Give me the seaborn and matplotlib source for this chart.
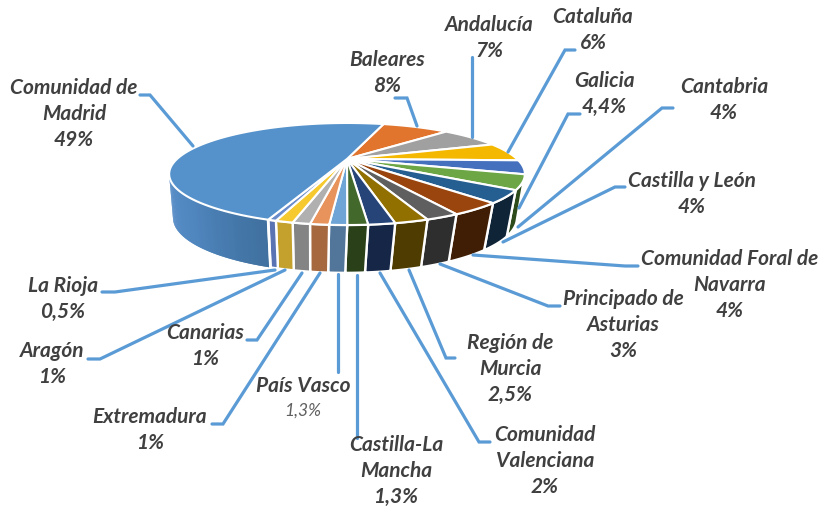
import numpy as np
import matplotlib
matplotlib.use('Agg')
import matplotlib.pyplot as plt
import seaborn as sns
from matplotlib.path import Path
from matplotlib.transforms import Transform

names = ['Baleares', 'Andalucía', 'Cataluña', 'Galicia', 'Cantabria', 'Castilla y León',
         'Comunidad Foral de\nNavarra', 'Principado de\nAsturias', 'Región de\nMurcia',
         'Comunidad\nValenciana', 'Castilla-La\nMancha', 'País Vasco', 'Extremadura',
         'Aragón', 'Canarias', 'La Rioja', 'Comunidad de\nMadrid']
# printed percentages
pct_labels = ['8%', '7%', '6%', '4,4%', '4%', '4%', '4%', '3%', '2,5%', '2%', '1,3%', '1,3%',
              '1%', '1%', '1%', '0,5%', '49%']
# slice sizes as they look in the picture, the small ones differ a bit from the printed labels
shares = [8, 7, 6, 4.4, 4.6, 3.83, 3.8, 2.36, 2.33, 1.83, 1.39, 1.2, 1.28, 1.2, 1.2, 0.58, 49]

top_colors = ['#E2752E', '#A0A0A0', '#F5B800', '#4470BE', '#6CA645', '#255E91', '#9A450D',
              '#5F5F5F', '#927000', '#264478', '#43682B', '#6FA5D6', '#E9935C', '#B0B0B0',
              '#F6C92E', '#6A8CCB', '#5592CB']
side_colors = ['#8A4515', '#666666', '#967000', '#2A4578', '#2C4A1A', '#0F2437', '#3F1E05',
               '#2E2E2E', '#4F3C00', '#152646', '#2A4018', '#52769A', '#A6683F', '#848484',
               '#C4A12C', '#5A74B3', '#4A80B8']

# label centre x, first line y
label_pos = [(387, 60), (489, 25), (593, 17), (604, 81), (724, 87), (692, 181), (730, 259),
             (623, 299), (510, 343), (545, 435), (396, 445), (303, 386), (150, 417),
             (52, 351), (205, 333), (63, 286), (74, 88)]
leaders = [[(395, 98), (407, 98), (417, 126)],
           [(472, 57), (472, 137)],
           [(575, 50), (565, 50), (508, 152)],
           [(580, 114), (568, 114), (519, 208)],
           [(673, 108), (662, 108), (518, 227)],
           [(625, 187), (615, 187), (503, 242)],
           [(638, 266), (625, 266), (473, 255)],
           [(560, 306), (548, 306), (440, 264)],
           [(455, 358), (446, 358), (409, 270)],
           [(490, 442), (479, 442), (380, 273)],
           [(357, 438), (357, 275)],
           [(338, 372), (338, 274)],
           [(212, 424), (223, 424), (320, 273)],
           [(88, 359), (100, 359), (285, 270)],
           [(247, 340), (257, 340), (302, 273)],
           [(102, 292), (115, 292), (275, 270)],
           [(140, 95), (150, 95), (193, 146)]]


class Tilt(Transform):
    input_dims = 2
    output_dims = 2

    def __init__(self, cx, cy, a, b, k):
        super().__init__()
        self.p = (cx, cy, a, b, k)

    def transform_non_affine(self, values):
        cx, cy, a, b, k = self.p
        v = np.asarray(values, dtype=float)
        s = 1 + k * v[:, 1]
        return np.column_stack([cx + a * v[:, 0] / s, cy - b * v[:, 1] / s])

    def transform_path_non_affine(self, path):
        pts = np.vstack([c(np.linspace(0, 1, 24)) for c, _ in path.iter_bezier()])
        return Path(self.transform_non_affine(pts), closed=True)


def rim(tilt, a1, a2, n=40):
    t = np.radians(np.linspace(a1, a2, n))
    return tilt.transform_non_affine(np.column_stack([np.cos(t), np.sin(t)]))


sns.set_theme(style='white')
plt.rcParams['font.family'] = ['Lato', 'DejaVu Sans']

fig, ax = plt.subplots(figsize=(8.21, 5.08), dpi=100)
ax.set_position([0, 0, 1, 1])

wedges, _ = ax.pie(shares, colors=top_colors, startangle=74, counterclock=False,
                   wedgeprops=dict(edgecolor='white', linewidth=1.5, zorder=5))
ax.set_aspect('auto')
ax.set_xlim(0, 821)
ax.set_ylim(508, 0)
ax.axis('off')

top = Tilt(347, 159, 170, 46.6, 0.294)
bottom = Tilt(345, 203, 165.6, 51, 0.27)

for w in wedges:
    w.set_transform(top + ax.transData)

# side wall, only the front part of the rim shows
for w, col in zip(wedges, side_colors):
    a1 = w.theta1 % 360
    a2 = a1 + (w.theta2 - w.theta1)
    a1, a2 = max(a1, 197), min(a2, 343)
    if a1 >= a2:
        continue
    if a2 - a1 > 30:
        n = 60
        shades = sns.blend_palette(['#5C90CA', '#4F86BE', '#3F709F'], n)
        edges = np.linspace(a1, a2, n + 1)
        for i in range(n):
            # strips overlap the next one so no seams show
            end = edges[min(i + 2, n)]
            poly = np.vstack([rim(top, edges[i], end, 4), rim(bottom, end, edges[i], 4)])
            ax.fill(poly[:, 0], poly[:, 1], color=shades[i], lw=0, zorder=2)
        t_end, b_end = rim(top, a2, a2, 1), rim(bottom, a2, a2, 1)
        ax.plot([t_end[0, 0], b_end[0, 0]], [t_end[0, 1], b_end[0, 1]],
                color='white', lw=2, zorder=3)
    else:
        poly = np.vstack([rim(top, a1, a2), rim(bottom, a2, a1)])
        ax.fill(poly[:, 0], poly[:, 1], facecolor=col, edgecolor='white', lw=1.7, zorder=3)

for pts in leaders:
    xs, ys = zip(*pts)
    ax.plot(xs, ys, color='#5B9BD5', lw=2.3, solid_joinstyle='miter', zorder=6)

for name, pct, (x, y) in zip(names, pct_labels, label_pos):
    lines = name.split('\n')
    for i, line in enumerate(lines):
        ax.text(x, y + 26 * i, line, ha='center', va='center', fontsize=15,
                fontweight='bold', fontstyle='italic', color='#404040', zorder=7)
    if name == 'País Vasco':
        ax.text(x, y + 25, pct, ha='center', va='center', fontsize=12.5,
                fontstyle='italic', color='#5F5F5F', zorder=7)
    else:
        ax.text(x, y + 26 * len(lines), pct, ha='center', va='center', fontsize=15,
                fontweight='bold', fontstyle='italic', color='#404040', zorder=7)

fig.savefig('out.png', dpi=100, facecolor='white')
